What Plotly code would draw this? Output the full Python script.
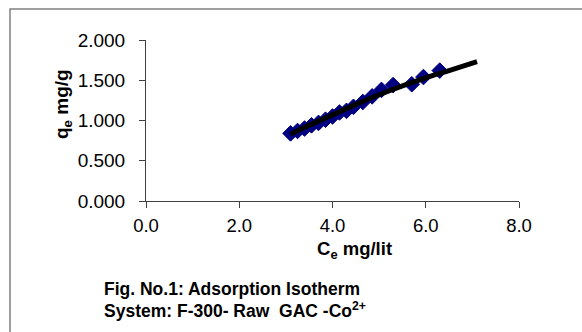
import plotly.graph_objects as go

ce = [3.10, 3.25, 3.40, 3.55, 3.70, 3.85, 4.00, 4.15, 4.30, 4.45, 4.65, 4.85, 5.05, 5.30, 5.70, 5.95, 6.30]
qe = [0.84, 0.87, 0.90, 0.94, 0.97, 1.01, 1.05, 1.10, 1.12, 1.17, 1.23, 1.30, 1.38, 1.44, 1.45, 1.54, 1.62]

fit_ce = [3.1, 3.5, 4.0, 4.5, 5.0, 5.5, 6.0, 6.5, 7.1]
fit_qe = [0.83, 0.94, 1.07, 1.20, 1.32, 1.43, 1.53, 1.62, 1.73]

x_ticks = [0, 2, 4, 6, 8]
x_tick_text = ["0.0", "2.0", "4.0", "6.0", "8.0"]
y_ticks = [0, 0.5, 1.0, 1.5, 2.0]
y_tick_text = ["0.000", "0.500", "1.000", "1.500", "2.000"]

FONT = "Arial, Liberation Sans, sans-serif"

fig = go.Figure()
fig.add_trace(go.Scatter(x=ce, y=qe, mode="markers",
                         marker=dict(symbol="diamond", size=12, color="#000080",
                                     line=dict(color="#000080", width=1)),
                         showlegend=False))
fig.add_trace(go.Scatter(x=fit_ce, y=fit_qe, mode="lines",
                         line=dict(color="black", width=5, shape="spline"),
                         showlegend=False))

L, T, W, H = 146, 40, 373, 161
fig.update_layout(
    width=582, height=332,
    margin=dict(l=L, r=582 - L - W, t=T, b=332 - T - H),
    paper_bgcolor="white", plot_bgcolor="white",
    font=dict(family=FONT, color="black", size=18),
    xaxis=dict(range=[0, 8], tickvals=x_ticks, ticktext=x_tick_text,
               showgrid=False, zeroline=False, showline=True, linecolor="#404040",
               linewidth=1, ticks="outside", ticklen=6, tickcolor="#404040",
               ticklabelstandoff=2,
               tickfont=dict(size=18.5, family=FONT)),
    yaxis=dict(range=[0, 2.0], tickvals=y_ticks, ticktext=y_tick_text,
               showgrid=False, zeroline=False, showline=True, linecolor="#404040",
               linewidth=1, ticks="outside", ticklen=6, tickcolor="#404040",
               ticklabelstandoff=10,
               tickfont=dict(size=19, family=FONT)),
    shapes=[dict(type="rect", xref="paper", yref="paper",
                 x0=(10 - L) / W, x1=2.5, y0=-3, y1=(T + H - 9) / H,
                 line=dict(color="#808080", width=1.5), layer="below")],
    annotations=[
        dict(text="<b>C<sub>e</sub> mg/lit</b>", xref="paper", yref="paper",
             x=(354 - L) / W, y=(T + H - 250) / H, xanchor="center", yanchor="middle",
             showarrow=False, font=dict(size=18.5, family=FONT)),
        dict(text="<b>q<sub>e</sub> mg/g</b>", xref="paper", yref="paper",
             x=(63 - L) / W, y=(T + H - 104) / H, xanchor="center", yanchor="middle",
             textangle=-90, showarrow=False, font=dict(size=19, family=FONT)),
        dict(text="<b>Fig. No.1: Adsorption Isotherm</b>",
             xref="paper", yref="paper", x=(102 - L) / W, y=(T + H - 289) / H,
             xanchor="left", yanchor="middle", align="left",
             showarrow=False, font=dict(size=17.5, family=FONT)),
        dict(text="<b>System: F-300- Raw  GAC -Co<sup>2+</sup></b>",
             xref="paper", yref="paper", x=(102 - L) / W, y=(T + H - 310) / H,
             xanchor="left", yanchor="middle", align="left",
             showarrow=False, font=dict(size=17.5, family=FONT)),
    ],
)

fig.write_html("out.html")
